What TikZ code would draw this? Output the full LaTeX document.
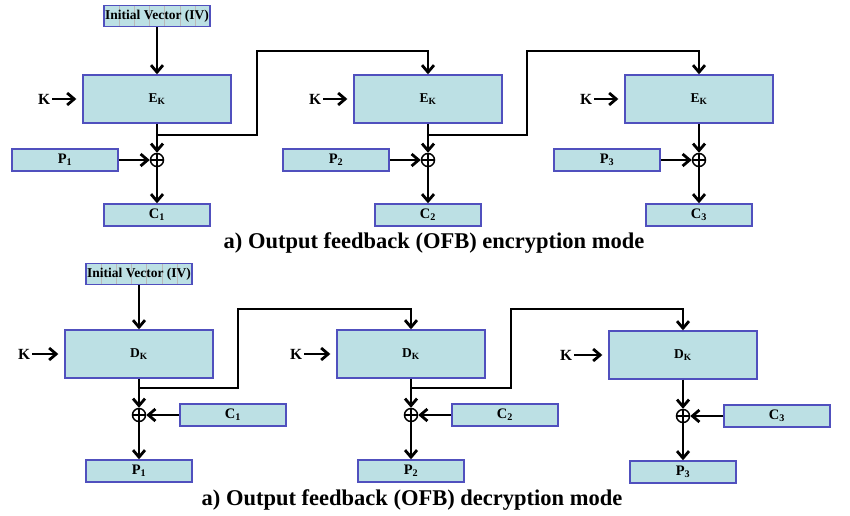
\documentclass[tikz,border=0pt]{standalone}
\usepackage{fontspec}
\setmainfont{Liberation Serif}
\usepackage{tikz}
\usetikzlibrary{arrows.meta, positioning, calc}

\definecolor{boxfill}{RGB}{188,224,228}
\definecolor{boxline}{RGB}{80,80,190}

\begin{document}
\begin{tikzpicture}[
    x=1pt, y=-1pt,
    block/.style={rectangle, draw=boxline, fill=boxfill, line width=1.4pt, minimum width=148pt, minimum height=48pt, inner sep=0pt, font=\fontsize{13.5}{15}\selectfont\bfseries},
    datbox/.style={rectangle, draw=boxline, fill=boxfill, line width=1.4pt, minimum width=106pt, minimum height=22pt, inner sep=0pt, font=\fontsize{14.5}{16}\selectfont\bfseries},
    ivbox/.style={datbox, minimum height=21pt, font=\fontsize{13.5}{15}\selectfont\bfseries,
        path picture={\foreach \i in {1,...,6}
            \draw[gray!55, line width=0.4pt] ($(path picture bounding box.south west)!\i/7!(path picture bounding box.south east)$) -- ($(path picture bounding box.north west)!\i/7!(path picture bounding box.north east)$);}},
    xorop/.style={circle, draw, line width=1.5pt, minimum size=13pt, inner sep=0pt,
        path picture={\draw[line width=1.3pt] (path picture bounding box.north) -- (path picture bounding box.south)
            (path picture bounding box.west) -- (path picture bounding box.east);}},
    keylabel/.style={font=\fontsize{15.5}{17}\selectfont\bfseries, inner sep=2pt},
    caption/.style={font=\fontsize{22.5}{26}\selectfont\bfseries},
    arrow/.style={-{Straight Barb[length=7pt, width=12pt]}, line width=2.8pt},
]
    \useasboundingbox (0,0) rectangle (850,515);

    % Encryption
    \node[block] (ek1) at (157,99) {E\textsubscript{K}};
    \node[block] (ek2) at (428,99) {E\textsubscript{K}};
    \node[block] (ek3) at (699,99) {E\textsubscript{K}};

    \node[ivbox, above=47pt of ek1] (iv1) {Initial Vector (IV)};

    \node[keylabel, left=30pt of ek1] (ke1) {K};
    \node[keylabel, left=30pt of ek2] (ke2) {K};
    \node[keylabel, left=30pt of ek3] (ke3) {K};

    \node[xorop] (xe1) at (157,160) {};
    \node[xorop] (xe2) at (428,160) {};
    \node[xorop] (xe3) at (699,160) {};

    \node[datbox, left=31pt of xe1] (pe1) {P\textsubscript{1}};
    \node[datbox, left=31pt of xe2] (pe2) {P\textsubscript{2}};
    \node[datbox, left=31pt of xe3] (pe3) {P\textsubscript{3}};

    \node[datbox, below=36pt of xe1] (ce1) {C\textsubscript{1}};
    \node[datbox, below=36pt of xe2] (ce2) {C\textsubscript{2}};
    \node[datbox, below=36pt of xe3] (ce3) {C\textsubscript{3}};

    \node[caption] (cap1) at (434,243) {a) Output feedback (OFB) encryption mode};

    % feedback points
    \coordinate (fe1) at (157,135);
    \coordinate (fe2) at (428,135);
    \coordinate (ue1) at (257,51);
    \coordinate (ue2) at (527,51);

    \draw[arrow] (iv1) -- (ek1);
    \draw[arrow] (ke1) -- (ek1) [shorten >=6pt];
    \draw[arrow] (ke2) -- (ek2) [shorten >=6pt];
    \draw[arrow] (ke3) -- (ek3) [shorten >=6pt];
    \draw[arrow] (ek1) -- (xe1);
    \draw[arrow] (ek2) -- (xe2);
    \draw[arrow] (ek3) -- (xe3);
    \draw[arrow] (pe1) -- (xe1);
    \draw[arrow] (pe2) -- (xe2);
    \draw[arrow] (pe3) -- (xe3);
    \draw[arrow] (xe1) -- (ce1);
    \draw[arrow] (xe2) -- (ce2);
    \draw[arrow] (xe3) -- (ce3);
    \draw[arrow] (fe1) -| (ue1) -| (ek2.north);
    \draw[arrow] (fe2) -| (ue2) -| (ek3.north);

    % Decryption
    \node[block] (dk1) at (139,354) {D\textsubscript{K}};
    \node[block] (dk2) at (411,354) {D\textsubscript{K}};
    \node[block] (dk3) at (683,355) {D\textsubscript{K}};

    \node[ivbox, above=44pt of dk1] (iv2) {Initial Vector (IV)};

    \node[keylabel, left=32pt of dk1] (kd1) {K};
    \node[keylabel, left=32pt of dk2] (kd2) {K};
    \node[keylabel, left=34pt of dk3] (kd3) {K};

    \node[xorop] (xd1) at (139,415) {};
    \node[xorop] (xd2) at (411,415) {};
    \node[xorop] (xd3) at (683,416) {};

    \node[datbox, right=33pt of xd1] (cd1) {C\textsubscript{1}};
    \node[datbox, right=33pt of xd2] (cd2) {C\textsubscript{2}};
    \node[datbox, right=33pt of xd3] (cd3) {C\textsubscript{3}};

    \node[datbox, below=37pt of xd1] (pd1) {P\textsubscript{1}};
    \node[datbox, below=37pt of xd2] (pd2) {P\textsubscript{2}};
    \node[datbox, below=37pt of xd3] (pd3) {P\textsubscript{3}};

    \node[caption] (cap2) at (412,500) {a) Output feedback (OFB) decryption mode};

    \coordinate (fd1) at (139,388);
    \coordinate (fd2) at (411,388);
    \coordinate (ud1) at (238,309);
    \coordinate (ud2) at (511,309);

    \draw[arrow] (iv2) -- (dk1);
    \draw[arrow] (kd1) -- (dk1) [shorten >=6pt];
    \draw[arrow] (kd2) -- (dk2) [shorten >=6pt];
    \draw[arrow] (kd3) -- (dk3) [shorten >=6pt];
    \draw[arrow] (dk1) -- (xd1);
    \draw[arrow] (dk2) -- (xd2);
    \draw[arrow] (dk3) -- (xd3);
    \draw[arrow] (cd1) -- (xd1);
    \draw[arrow] (cd2) -- (xd2);
    \draw[arrow] (cd3) -- (xd3);
    \draw[arrow] (xd1) -- (pd1);
    \draw[arrow] (xd2) -- (pd2);
    \draw[arrow] (xd3) -- (pd3);
    \draw[arrow] (fd1) -| (ud1) -| (dk2.north);
    \draw[arrow] (fd2) -| (ud2) -| (dk3.north);
\end{tikzpicture}
\end{document}
